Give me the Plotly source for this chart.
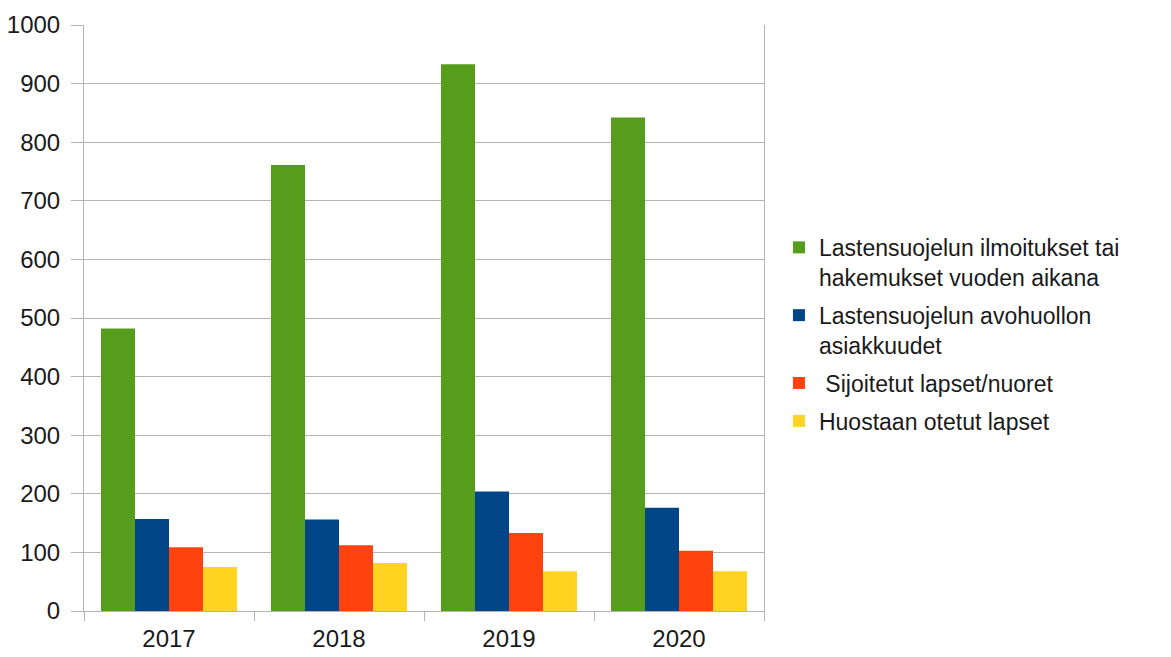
import plotly.graph_objects as go

years = ["2017", "2018", "2019", "2020"]
series_names = [
    "Lastensuojelun ilmoitukset tai<br>hakemukset vuoden aikana",
    "Lastensuojelun avohuollon<br>asiakkuudet",
    "\u00a0Sijoitetut lapset/nuoret",
    "Huostaan otetut lapset",
]
ilmoitukset = [482, 761, 933, 842]
avohuolto = [157, 156, 204, 176]
sijoitetut = [109, 112, 133, 103]
huostaan = [75, 82, 68, 68]
colors = ["#579d1c", "#004586", "#ff420e", "#ffd320"]

values = [ilmoitukset, avohuolto, sijoitetut, huostaan]

fig = go.Figure()
for i, (name, vals, col) in enumerate(zip(series_names, values, colors)):
    fig.add_trace(go.Bar(x=years, y=vals, name=name, marker_color=col,
                         marker_line_width=0, legendgroup=f"g{i}"))

font_family = "Liberation Sans, Arial, sans-serif"
fig.update_layout(
    width=1171, height=657,
    margin=dict(l=76, r=415, t=17, b=54, pad=0, autoexpand=False),
    plot_bgcolor="white", paper_bgcolor="white",
    barmode="group", bargap=0.2, bargroupgap=0,
    font=dict(family=font_family, color="#1a1a1a"),
    showlegend=True,
    legend=dict(x=1.022, xanchor="left", y=0.472, yanchor="middle",
                font=dict(size=23, color="#1a1a1a"),
                itemwidth=30, tracegroupgap=5, valign="top",
                bgcolor="rgba(0,0,0,0)"),
)
fig.update_yaxes(range=[0, 1000], dtick=100, showgrid=True, gridcolor="#b3b3b3",
                 gridwidth=1, showline=True, linecolor="#b3b3b3", linewidth=1,
                 mirror=True, ticks="outside", ticklen=12, tickcolor="#b3b3b3",
                 tickfont=dict(size=24, color="#1a1a1a"), zeroline=False,
                 ticklabelstandoff=6, automargin=False)
fig.update_xaxes(type="category", showline=True, linecolor="#b3b3b3", linewidth=1,
                 ticks="outside", ticklen=9, tickcolor="#b3b3b3", tickson="boundaries",
                 tickfont=dict(size=24, color="#1a1a1a"), showgrid=False,
                 ticklabelstandoff=6, automargin=False)

fig.write_html("out.html")
